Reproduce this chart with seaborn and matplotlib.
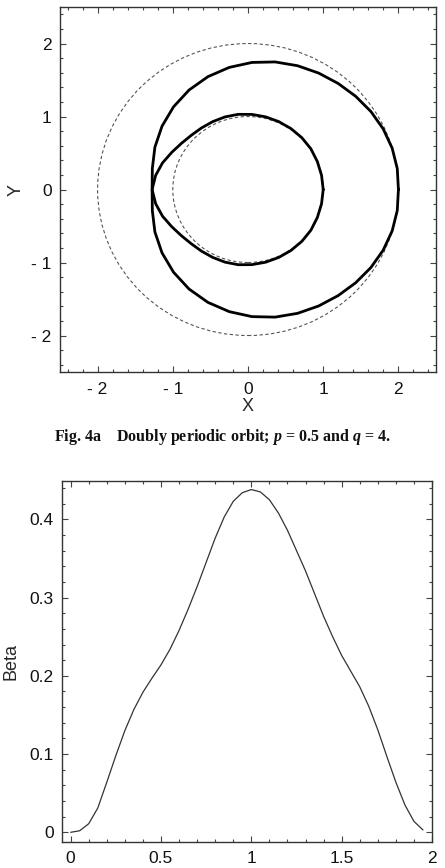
import numpy as np
import matplotlib
matplotlib.use("Agg")
import matplotlib.pyplot as plt
from matplotlib.patches import Circle
from matplotlib.ticker import MultipleLocator
import seaborn as sns

# orbit: outer loop (upper half, x from right to left)
outer_x_up = [2.00, 1.985, 1.917, 1.798, 1.634, 1.432, 1.199, 0.940, 0.659, 0.36, 0.053,
              -0.249, -0.533, -0.784, -0.990, -1.143, -1.238, -1.272, -1.275]
outer_y_up = [0.00, 0.287, 0.567, 0.830, 1.069, 1.277, 1.453, 1.595, 1.696, 1.748, 1.741,
              1.673, 1.546, 1.363, 1.133, 0.868, 0.581, 0.289, 0.00]
# inner loop (upper half)
inner_x_up = [1.00, 0.978, 0.922, 0.836, 0.716, 0.571, 0.408, 0.233, 0.051, -0.13, -0.305,
              -0.469, -0.618, -0.754, -0.885, -1.013, -1.136, -1.228, -1.275]
inner_y_up = [0.00, 0.195, 0.383, 0.558, 0.710, 0.835, 0.931, 0.996, 1.029, 1.030, 0.995,
              0.930, 0.844, 0.743, 0.633, 0.510, 0.366, 0.194, 0.00]
circle_radii = [1.0, 2.0]

# the loops look mirror-symmetric about y = 0
outer_x = outer_x_up + outer_x_up[-2::-1]
outer_y = outer_y_up + [-v for v in outer_y_up[-2::-1]]
inner_x = inner_x_up + inner_x_up[-2::-1]
inner_y = inner_y_up + [-v for v in inner_y_up[-2::-1]]

# beta curve
t = [0, 0.05, 0.1, 0.15, 0.2, 0.25, 0.3, 0.35, 0.4, 0.45, 0.5, 0.55, 0.6, 0.65, 0.7, 0.75,
     0.8, 0.85, 0.9, 0.95, 1.0, 1.05, 1.1, 1.15, 1.2, 1.25, 1.3, 1.35, 1.4, 1.45, 1.5, 1.55,
     1.6, 1.65, 1.7, 1.75, 1.8, 1.85, 1.9, 1.95]
beta = [0, 0.002, 0.011, 0.031, 0.064, 0.098, 0.130, 0.157, 0.179, 0.197, 0.214, 0.234,
        0.258, 0.285, 0.314, 0.345, 0.376, 0.403, 0.423, 0.434, 0.438, 0.435, 0.425, 0.408,
        0.386, 0.360, 0.334, 0.305, 0.276, 0.250, 0.226, 0.206, 0.186, 0.161, 0.131, 0.097,
        0.064, 0.035, 0.014, 0.003]

top_ticks = [-2, -1, 0, 1, 2]
top_labels = ["- 2", "- 1", "0", "1", "2"]
bt_xticks = [0, 0.5, 1, 1.5, 2]
bt_xlabels = ["0", "0.5", "1", "1.5", "2"]
bt_yticks = [0, 0.1, 0.2, 0.3, 0.4]
bt_ylabels = ["0", "0.1", "0.2", "0.3", "0.4"]

sns.set_theme(style="ticks")
plt.rcParams['font.family'] = ['Liberation Sans', 'DejaVu Sans']
plt.rcParams['mathtext.fontset'] = 'custom'
plt.rcParams['mathtext.rm'] = 'Liberation Serif:bold'
plt.rcParams['mathtext.it'] = 'Liberation Serif:italic:bold'
plt.rcParams['lines.solid_joinstyle'] = 'round'

fig = plt.figure(figsize=(4.45, 8.68), dpi=100)
ax1 = fig.add_axes([0.1348, 0.5714, 0.845, 0.4205])
ax2 = fig.add_axes([0.1393, 0.0303, 0.8315, 0.4156])


def style_axes(ax, major_len=4, minor_len=2):
    for s in ax.spines.values():
        s.set_color('#333333')
        s.set_linewidth(1.0)
    ax.tick_params(which='both', direction='in', top=True, right=True,
                   color='#444444', width=0.8, labelsize=12.5, labelcolor='#111111')
    ax.tick_params(which='major', length=major_len)
    ax.tick_params(which='minor', length=minor_len)


# top panel
for r in circle_radii:
    ax1.add_patch(Circle((0, 0), r, fill=False, ls=(0, (3, 2.2)), lw=0.8, ec='#555555'))
sns.lineplot(x=outer_x, y=outer_y, sort=False, estimator=None, color='black', lw=2.0, ax=ax1)
sns.lineplot(x=inner_x, y=inner_y, sort=False, estimator=None, color='black', lw=2.0, ax=ax1)
ax1.set_xlim(-2.5, 2.5)
ax1.set_ylim(-2.5, 2.5)
ax1.set_xticks(top_ticks)
ax1.set_xticklabels(top_labels)
ax1.set_yticks(top_ticks)
ax1.set_yticklabels(top_labels)
ax1.xaxis.set_minor_locator(MultipleLocator(0.2))
ax1.yaxis.set_minor_locator(MultipleLocator(0.2))
style_axes(ax1)
ax1.tick_params(axis='x', pad=7)
ax1.tick_params(axis='y', pad=6)
ax1.set_xlabel('X', fontsize=13, labelpad=1)
ax1.set_ylabel('Y', fontsize=13, labelpad=5)

fig.text(0.50, 0.4965,
         r"Fig. 4a    Doubly periodic orbit; $p$ = 0.5 and $q$ = 4.",
         ha='center', va='center', fontsize=11.5, family='Liberation Serif',
         weight='bold', color='#111111')

# bottom panel
sns.lineplot(x=t, y=beta, sort=False, estimator=None, color='#333333', lw=0.9, ax=ax2)
ax2.set_xlim(-0.048, 2.0)
ax2.set_ylim(-0.012, 0.449)
ax2.set_xticks(bt_xticks)
ax2.set_xticklabels(bt_xlabels)
ax2.set_yticks(bt_yticks)
ax2.set_yticklabels(bt_ylabels)
ax2.xaxis.set_minor_locator(MultipleLocator(0.1))
ax2.yaxis.set_minor_locator(MultipleLocator(0.02))
style_axes(ax2)
ax2.tick_params(axis='x', pad=7)
ax2.tick_params(axis='y', pad=6)
ax2.set_ylabel('Beta', fontsize=13, labelpad=7)

fig.savefig('out.png', dpi=100)
